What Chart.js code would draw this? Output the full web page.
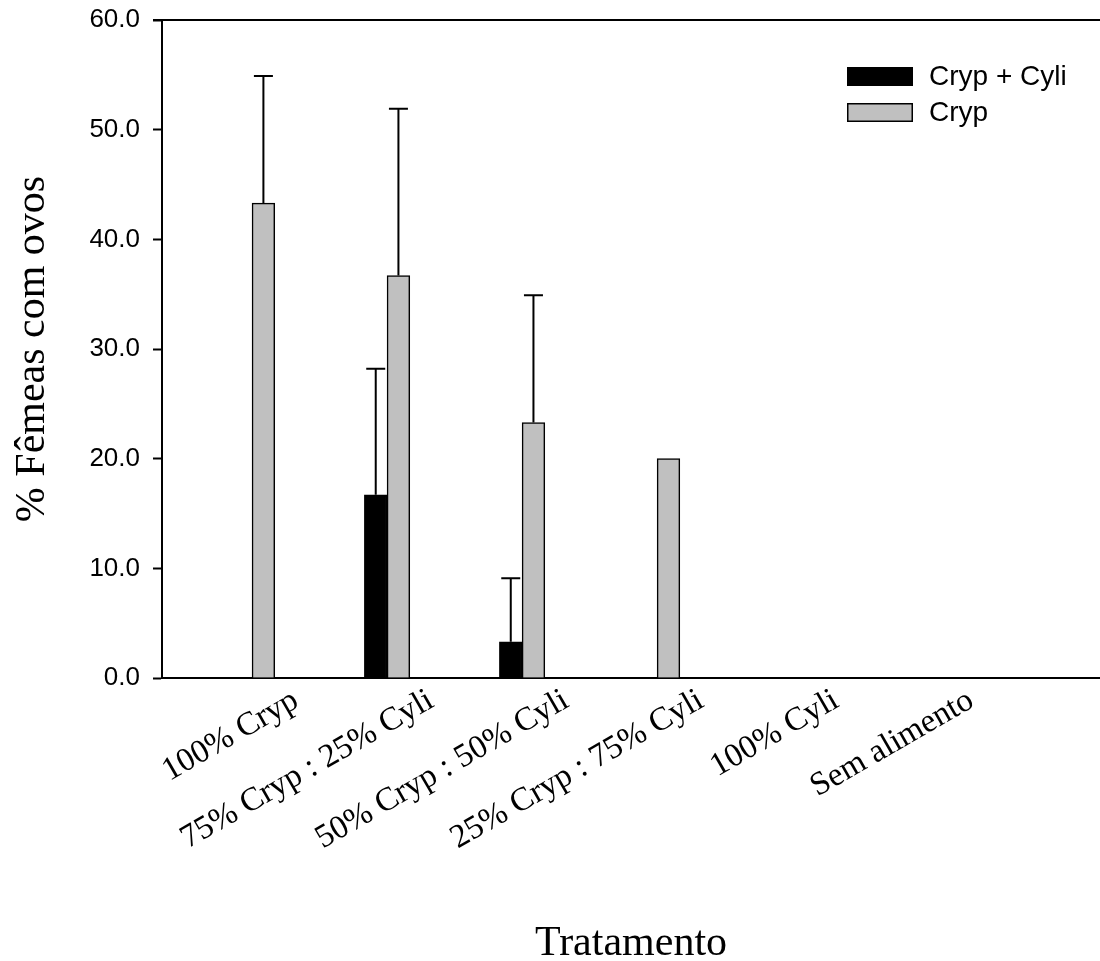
<!DOCTYPE html>
<html>
<head>
<meta charset="utf-8">
<script src="https://cdn.jsdelivr.net/npm/chart.js@4.4.1/dist/chart.umd.min.js"></script>
<style>
  html, body { margin: 0; padding: 0; background: #fff; }
  #wrap { width: 1100px; height: 961px; position: relative; }
</style>
</head>
<body>
<div id="wrap"><canvas id="c"></canvas></div>
<script>
// ---- data ----
const categories = ['100% Cryp', '75% Cryp : 25% Cyli', '50% Cryp : 50% Cyli', '25% Cryp : 75% Cyli', '100% Cyli', 'Sem alimento'];
const categoryPositions = [1, 2, 3, 4, 5, 6];
const seriesNames = ['Cryp + Cyli', 'Cryp'];
const crypCyliValues = [0, 16.7, 3.3, 0, 0, 0];
const crypCyliErrors = [0, 11.5, 5.8, 0, 0, 0];
const crypValues = [43.3, 36.7, 23.3, 20.0, 0, 0];
const crypErrors = [11.6, 15.2, 11.6, 0, 0, 0];
const yTicks = [0, 10, 20, 30, 40, 50, 60];

const toPoints = (vals) => vals.map((v, i) => ({ x: categoryPositions[i], y: v }));

// ---- plugins ----
const errorBars = {
  id: 'errorBars',
  afterDatasetsDraw(chart) {
    const ctx = chart.ctx;
    const y = chart.scales.y;
    chart.data.datasets.forEach((ds, di) => {
      const meta = chart.getDatasetMeta(di);
      (ds.errors || []).forEach((e, i) => {
        if (!e) return;
        const bar = meta.data[i];
        const top = y.getPixelForValue(ds.data[i].y + e);
        ctx.save();
        ctx.strokeStyle = '#000';
        ctx.lineWidth = 2;
        ctx.beginPath();
        ctx.moveTo(bar.x, bar.y);
        ctx.lineTo(bar.x, top);
        ctx.moveTo(bar.x - 9.5, top);
        ctx.lineTo(bar.x + 9.5, top);
        ctx.stroke();
        ctx.restore();
      });
    });
  }
};

const frame = {
  id: 'frame',
  afterDraw(chart) {
    const ctx = chart.ctx, a = chart.chartArea;
    ctx.save();
    ctx.strokeStyle = '#000';
    ctx.lineWidth = 2;
    ctx.beginPath();
    ctx.moveTo(a.left - 9, a.top);
    ctx.lineTo(chart.width, a.top);
    ctx.stroke();
    ctx.restore();
  }
};

const boxLegend = {
  id: 'boxLegend',
  afterDraw(chart) {
    const ctx = chart.ctx;
    const x0 = 847, y0 = 67, bw = 66, bh = 19, gap = 36;
    ctx.save();
    ctx.font = '28px "Liberation Sans", Arial, sans-serif';
    ctx.textBaseline = 'middle';
    ctx.textAlign = 'left';
    chart.data.datasets.forEach((ds, i) => {
      const yy = y0 + i * gap;
      ctx.fillStyle = ds.backgroundColor;
      ctx.fillRect(x0, yy, bw, bh);
      ctx.strokeStyle = '#000';
      ctx.lineWidth = 1.5;
      ctx.strokeRect(x0 + 0.75, yy + 0.75, bw - 1.5, bh - 1.5);
      ctx.fillStyle = '#000';
      ctx.fillText(ds.label, x0 + bw + 16, yy + bh / 2 + 1);
    });
    ctx.restore();
  }
};

new Chart(document.getElementById('c'), {
  type: 'bar',
  data: {
    datasets: [
      { label: seriesNames[0], data: toPoints(crypCyliValues), errors: crypCyliErrors,
        backgroundColor: '#000000', borderColor: '#000000', borderWidth: 1.5 },
      { label: seriesNames[1], data: toPoints(crypValues), errors: crypErrors,
        backgroundColor: '#c0c0c0', borderColor: '#000000', borderWidth: 1.5 }
    ]
  },
  options: {
    responsive: true,
    maintainAspectRatio: false,
    devicePixelRatio: 1,
    animation: false,
    barThickness: 22.7,
    layout: { padding: { top: 20, right: 0, bottom: 0, left: 0 } },
    plugins: {
      legend: { display: false },
      tooltip: { enabled: false }
    },
    scales: {
      x: {
        type: 'linear',
        offset: false,
        min: 0.333,
        max: 7.28,
        afterBuildTicks(scale) { scale.ticks = categoryPositions.map(v => ({ value: v })); },
        afterFit(scale) { scale.height = 961 - 678; scale.paddingLeft = 0; scale.paddingRight = 0; },
        grid: { display: false, drawTicks: false, offset: false },
        border: { display: true, color: '#000', width: 2 },
        ticks: {
          autoSkip: false,
          maxRotation: 30,
          minRotation: 30,
          labelOffset: 44,
          padding: 3,
          color: '#000',
          font: { family: '"Liberation Serif", "Times New Roman", serif', size: 33 },
          callback: (v, i) => categories[i]
        },
        title: {
          display: true,
          text: 'Tratamento',
          color: '#000',
          font: { family: '"Liberation Serif", "Times New Roman", serif', size: 42 },
          padding: { top: 0, bottom: -8 }
        }
      },
      y: {
        min: 0,
        max: 60,
        afterBuildTicks(scale) { scale.ticks = yTicks.map(v => ({ value: v })); },
        afterFit(scale) { scale.width = 162; scale.paddingTop = 0; scale.paddingBottom = 0; },
        grid: { drawOnChartArea: false, drawTicks: true, tickLength: 9, tickColor: '#000', tickWidth: 2 },
        border: { display: true, color: '#000', width: 2 },
        ticks: {
          padding: 13,
          color: '#000',
          font: { family: '"Liberation Sans", Arial, sans-serif', size: 26 },
          callback: v => v.toFixed(1)
        },
        title: {
          display: true,
          text: '% Fêmeas com ovos',
          color: '#000',
          font: { family: '"Liberation Serif", "Times New Roman", serif', size: 42 },
          padding: { top: 8, bottom: 0 }
        }
      }
    }
  },
  plugins: [errorBars, frame, boxLegend]
});
</script>
</body>
</html>
